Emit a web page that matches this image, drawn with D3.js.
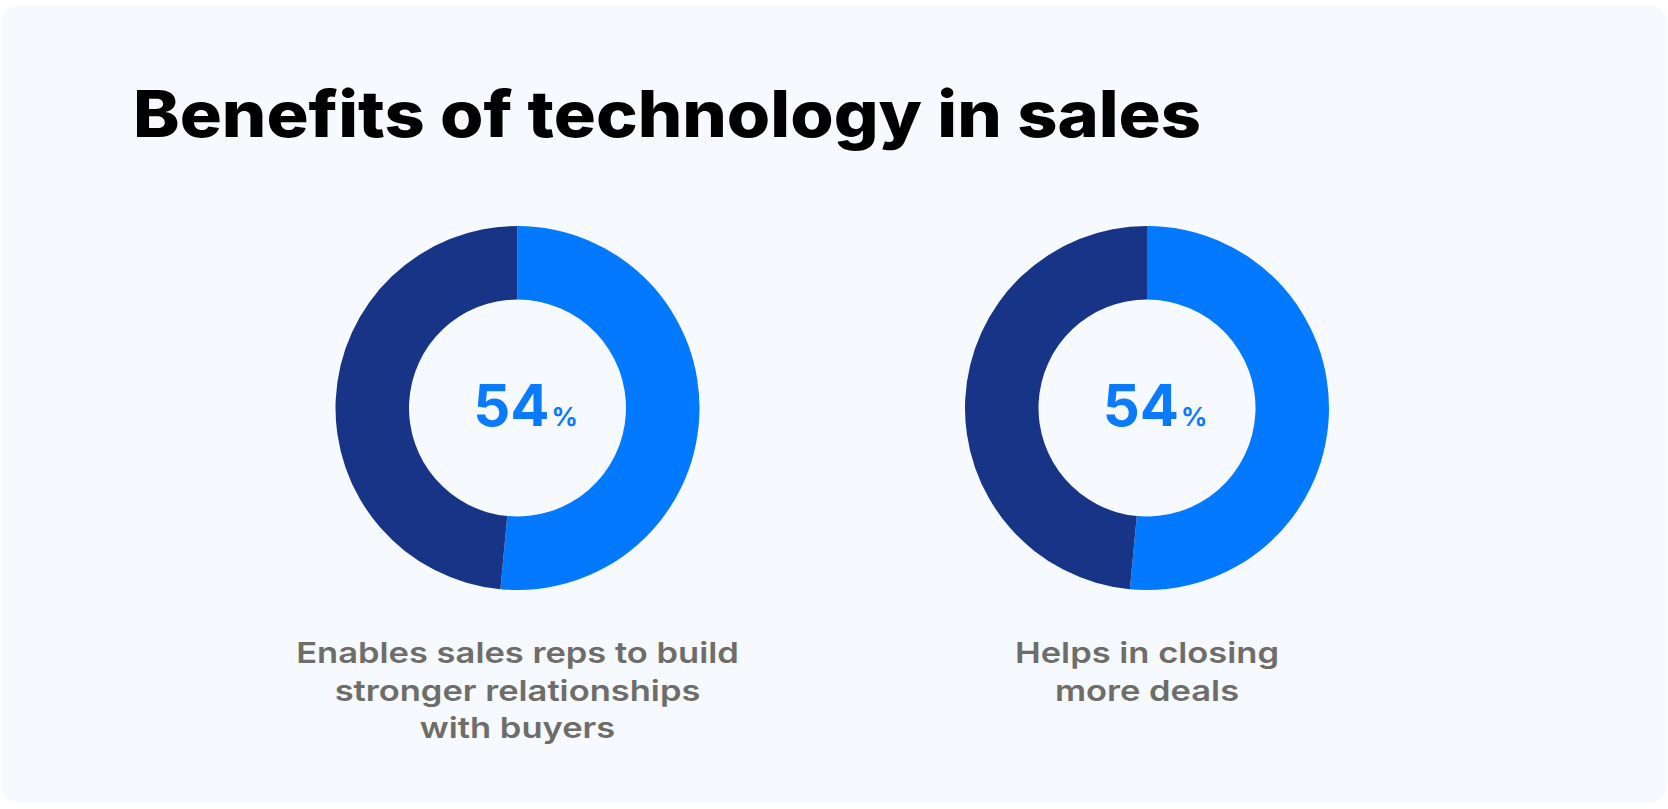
<!DOCTYPE html>
<html>
<head>
<meta charset="utf-8">
<script src="https://cdn.jsdelivr.net/npm/d3@7"></script>
<style>
  html, body { margin: 0; padding: 0; background: #ffffff; }
  svg { display: block; }
</style>
</head>
<body>
<div id="graph"></div>
<script>
// data
var title = "Benefits of technology in sales";
var categories = ["relationships", "deals"];
var percentLabels = [54, 54];
// share of the ring painted light blue
var ringShare = [51.5, 51.5];
var captions = [
  ["Enables sales reps to build", "stronger relationships", "with buyers"],
  ["Helps in closing", "more deals"]
];

var width = 1668, height = 809;
var lightBlue = "#0279fe", navy = "#173486", grey = "#6e6d69";

var svg = d3.select("#graph")
  .append("svg")
    .attr("width", width)
    .attr("height", height);

// card background
svg.append("rect")
  .attr("x", 1)
  .attr("y", 5)
  .attr("width", 1666)
  .attr("height", 798)
  .attr("rx", 18)
  .attr("fill", "#f6fafe");

// title
svg.append("text")
  .attr("x", 133)
  .attr("y", 137)
  .attr("textLength", 1068)
  .attr("lengthAdjust", "spacingAndGlyphs")
  .style("font-family", "Inter, 'DejaVu Sans', sans-serif")
  .style("font-weight", 800)
  .style("font-size", "64px")
  .style("fill", "#000")
  .text(title);

// x position of each donut
var x = d3.scalePoint()
  .domain(categories)
  .range([517.5, 1147]);

var cy = 408;
var outerR = 182, innerR = 108.5;

var arc = d3.arc().innerRadius(innerR).outerRadius(outerR);
var pie = d3.pie().sort(null).value(d => d);

var donuts = svg.selectAll(".donut")
  .data(categories)
  .enter()
  .append("g")
    .attr("class", "donut")
    .attr("transform", d => `translate(${x(d)}, ${cy})`);

donuts.each(function(d, i) {
  var g = d3.select(this);
  var slices = pie([ringShare[i], 100 - ringShare[i]]);
  g.selectAll("path")
    .data(slices)
    .enter()
    .append("path")
      .attr("d", arc)
      .attr("fill", (s, j) => j === 0 ? lightBlue : navy);

  // centre value
  var t = g.append("text")
    .attr("x", 8)
    .attr("y", 18)
    .attr("text-anchor", "middle")
    .style("font-family", "Inter, 'DejaVu Sans', sans-serif")
    .style("font-weight", 700)
    .style("fill", "#0a7bff");
  t.append("tspan")
    .style("font-size", "58px")
    .text(percentLabels[i]);
  t.append("tspan")
    .style("font-size", "26px")
    .attr("dx", 2)
    .text("%");

  // caption under the ring (widened to mimic the original's broad face)
  g.selectAll(".caption")
    .data(captions[i])
    .enter()
    .append("text")
      .attr("class", "caption")
      .attr("x", 0)
      .attr("y", (c, k) => 255 + k * 37.5)
      .attr("text-anchor", "middle")
      .style("font-family", "Inter, 'DejaVu Sans', sans-serif")
      .style("font-weight", 600)
      .style("font-size", "29px")
      .style("fill", grey)
      .text(c => c)
      .each(function() {
        var w = this.getComputedTextLength();
        d3.select(this)
          .attr("textLength", w * 1.19)
          .attr("lengthAdjust", "spacingAndGlyphs");
      });
});
</script>
</body>
</html>
